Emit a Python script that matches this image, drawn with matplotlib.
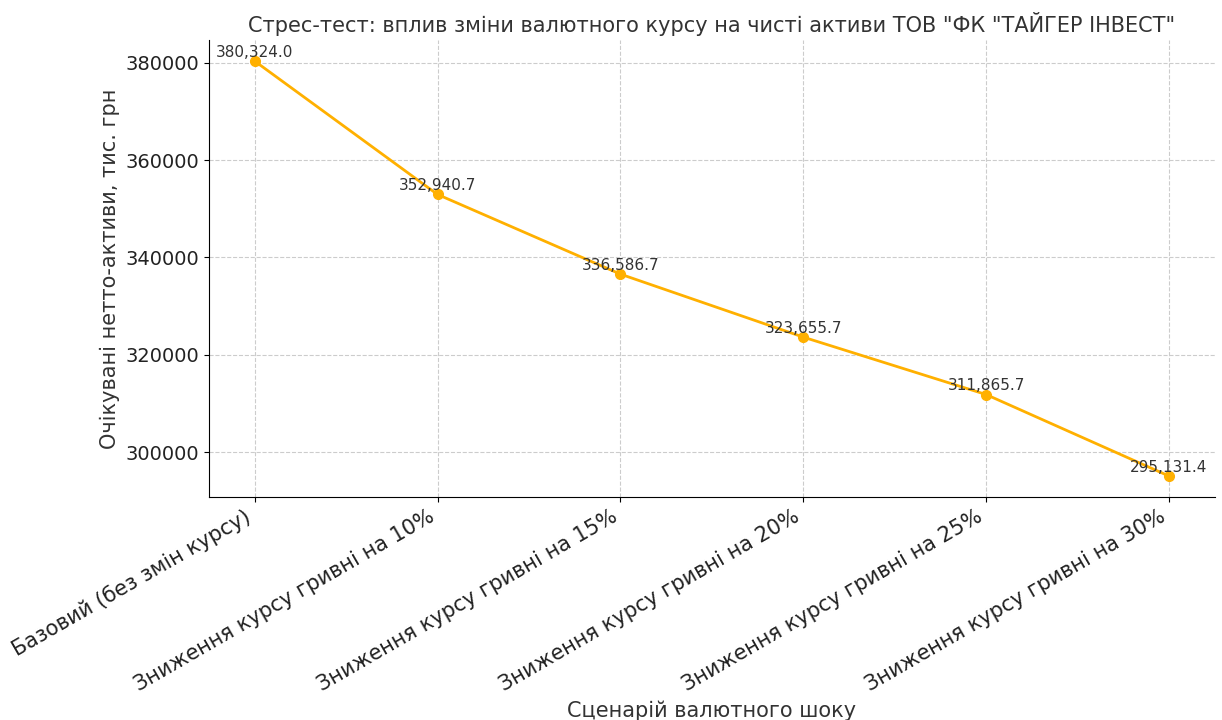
import matplotlib
matplotlib.use("Agg")
import matplotlib.pyplot as plt

scenarios = [
    "Базовий (без змін курсу)",
    "Зниження курсу гривні на 10%",
    "Зниження курсу гривні на 15%",
    "Зниження курсу гривні на 20%",
    "Зниження курсу гривні на 25%",
    "Зниження курсу гривні на 30%",
]
net_assets = [380324.0, 352940.7, 336586.7, 323655.7, 311865.7, 295131.4]

fig, ax = plt.subplots(figsize=(12.22, 7.2), dpi=100)
fig.subplots_adjust(left=0.171, right=0.994, top=0.944, bottom=0.31)

x = list(range(len(scenarios)))
ax.plot(x, net_assets, marker="o", color="#FFB000", linewidth=2, markersize=7)

for xi, v in zip(x, net_assets):
    ax.annotate("{:,.1f}".format(v), (xi, v), textcoords="offset points",
                xytext=(0, 3), ha="center", fontsize=11, color="#333333")

ax.set_xticks(x)
ax.set_xticklabels(scenarios, rotation=30, ha="right", fontsize=15, color="#222222")
ax.tick_params(axis="y", labelsize=14, labelcolor="#222222")
ax.set_title('Стрес-тест: вплив зміни валютного курсу на чисті активи ТОВ "ФК "ТАЙГЕР ІНВЕСТ"',
             fontsize=15, color="#333333")
ax.set_xlabel("Сценарій валютного шоку", fontsize=15, color="#333333")
ax.set_ylabel("Очікувані нетто-активи, тис. грн", fontsize=15, color="#333333")
ax.grid(True, linestyle="--", color="#cccccc", linewidth=0.8)
ax.spines["top"].set_visible(False)
ax.spines["right"].set_visible(False)

plt.savefig("out.png")
